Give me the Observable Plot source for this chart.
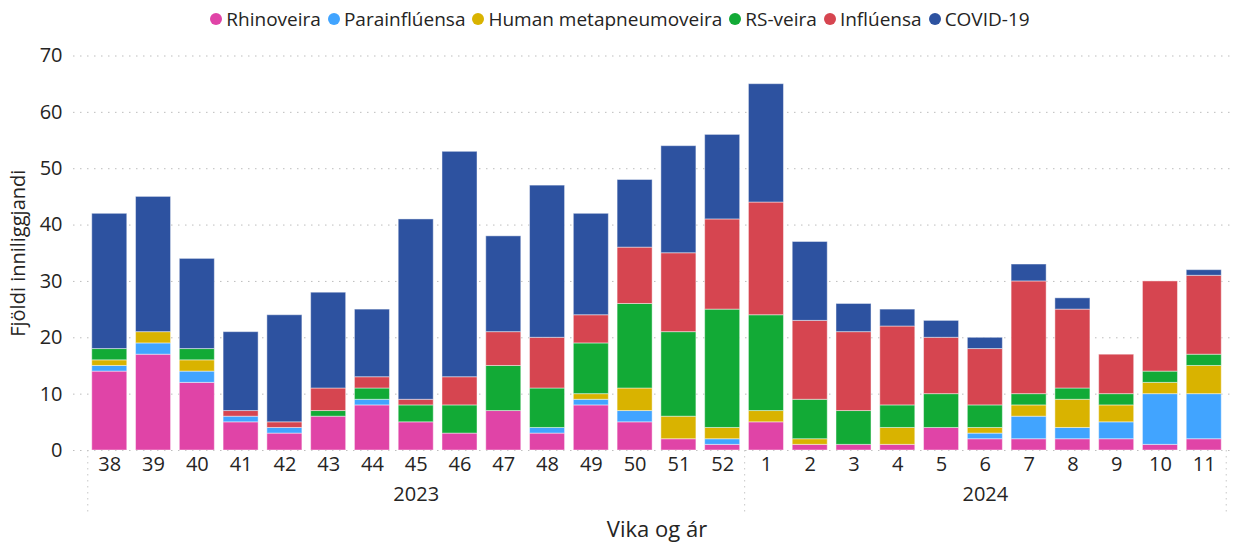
<!DOCTYPE html>
<html>
<head>
<meta charset="utf-8">
<script src="https://cdn.jsdelivr.net/npm/d3@7"></script>
<script src="https://cdn.jsdelivr.net/npm/@observablehq/plot@0.6"></script>
<style>
  html, body { margin: 0; padding: 0; background: #fff; }
  body { width: 1246px; height: 544px; overflow: hidden; font-family: "Open Sans", "Noto Sans", sans-serif; }
  #legend { height: 38px; display: flex; justify-content: center; align-items: center; font-size: 19px; color: #252423; padding-right: 6px; }
  #legend .item { display: flex; align-items: center; margin: 0 3.5px; }
  #legend .dot { width: 12px; height: 12px; border-radius: 50%; margin-right: 4px; }
  svg { display: block; }
</style>
</head>
<body>
<div id="legend"></div>
<div id="chart"></div>
<script>
// Categories
const weeks = ["38","39","40","41","42","43","44","45","46","47","48","49","50","51","52","1","2","3","4","5","6","7","8","9","10","11"];
const weekYears = ["2023","2023","2023","2023","2023","2023","2023","2023","2023","2023","2023","2023","2023","2023","2023","2024","2024","2024","2024","2024","2024","2024","2024","2024","2024","2024"];
const seriesNames = ["Rhinoveira", "Parainflúensa", "Human metapneumoveira", "RS-veira", "Inflúensa", "COVID-19"];
const seriesColors = ["#E044A7", "#41A4FF", "#D9B300", "#12AA36", "#D64550", "#2D52A0"];

// Series values (per week)
const rhinoveira    = [14,17,12,5,3,6,8,5,3,7,3,8,5,2,1, 5,1,1,1,4,2,2,2,2,1,2];
const parainfluensa = [1,2,2,1,1,0,1,0,0,0,1,1,2,0,1, 0,0,0,0,0,1,4,2,3,9,8];
const hmpv          = [1,2,2,0,0,0,0,0,0,0,0,1,4,4,2, 2,1,0,3,0,1,2,5,3,2,5];
const rsveira       = [2,0,2,0,0,1,2,3,5,8,7,9,15,15,21, 17,7,6,4,6,4,2,2,2,2,2];
const influensa     = [0,0,0,1,1,4,2,1,5,6,9,5,10,14,16, 20,14,14,14,10,10,20,14,7,16,14];
const covid         = [24,24,16,14,19,17,12,32,40,17,27,18,12,19,15, 21,14,5,3,3,2,3,2,0,0,1];

// Axis tick values and labels
const yTicks = [0,10,20,30,40,50,60,70];
const yearLabels = ["2023", "2024"];
const yearLabelWeeks = ["45", "6"];      // middle week of each year group
const yTitle = "Fjöldi inniliggjandi";
const xTitle = "Vika og ár";

const allSeries = [rhinoveira, parainfluensa, hmpv, rsveira, influensa, covid];
const table = [];
seriesNames.forEach((s, si) => {
  weeks.forEach((w, wi) => {
    table.push({week: w, year: weekYears[wi], series: s, value: allSeries[si][wi]});
  });
});

// Legend
const legend = document.getElementById("legend");
seriesNames.forEach((s, i) => {
  const it = document.createElement("div");
  it.className = "item";
  it.innerHTML = `<span class="dot" style="background:${seriesColors[i]}"></span><span>${s}</span>`;
  legend.appendChild(it);
});

const textColor = "#252423";
const plot = Plot.plot({
  width: 1246,
  height: 506,
  marginLeft: 83,
  marginRight: 16,
  marginTop: 17.5,
  marginBottom: 94,
  style: {fontFamily: "'Open Sans', 'Noto Sans', sans-serif", color: textColor, background: "#fff"},
  x: {domain: weeks, padding: 0.2, round: false, label: null},
  y: {domain: [0, 70], label: null},
  color: {domain: seriesNames, range: seriesColors},
  marks: [
    Plot.gridY(yTicks, {stroke: "#bdbdbd", strokeOpacity: 1, strokeDasharray: "1.5,5.5", strokeWidth: 1, insetLeft: -10, insetRight: -2}),
    Plot.barY(table, {x: "week", y: "value", fill: "series", order: seriesNames, stroke: "#ffffff", strokeOpacity: 0.45, strokeWidth: 1}),
    Plot.axisY({ticks: yTicks, tickSize: 0, tickPadding: 21, fontSize: 20, label: yTitle, labelAnchor: "center", labelArrow: "none", labelOffset: 73}),
    Plot.axisX({tickSize: 0, tickPadding: 6, fontSize: 20, label: null}),
    Plot.text(yearLabels, {x: (d, i) => yearLabelWeeks[i], text: d => d, frameAnchor: "bottom", dy: 50, fontSize: 20, fill: textColor}),
    Plot.text([xTitle], {text: d => d, frameAnchor: "bottom", dy: 86, fontSize: 22, fill: textColor}),
    Plot.ruleX([weeks[0]], {x: d => d, dx: -22, insetTop: 394.5, insetBottom: -62, stroke: "#c8c8c8", strokeDasharray: "1.5,4.5"}),
    Plot.ruleX([weeks[14], weeks[25]], {x: d => d, dx: 22, insetTop: 394.5, insetBottom: -62, stroke: "#c8c8c8", strokeDasharray: "1.5,4.5"})
  ]
});
document.getElementById("chart").appendChild(plot);
d3.select(plot).selectAll("[aria-label='y-axis label']").attr("font-size", 20);
</script>
</body>
</html>
